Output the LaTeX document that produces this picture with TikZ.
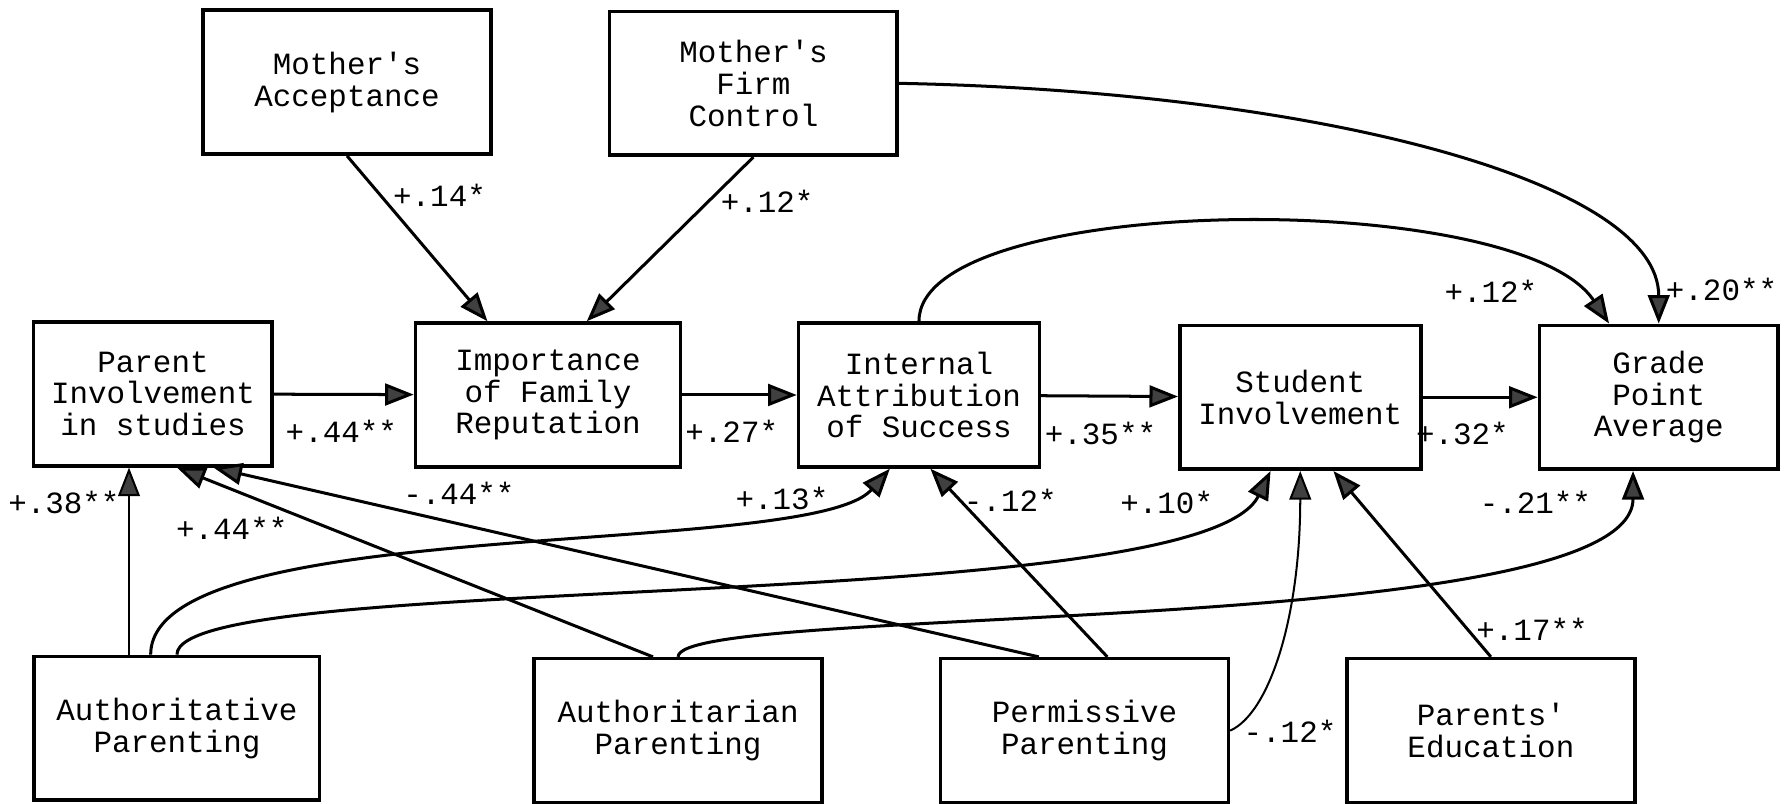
\documentclass[tikz,border=0pt]{standalone}
\usepackage{fontspec}
\setmonofont{Liberation Mono}
\usepackage{tikz}
\usetikzlibrary{arrows.meta,calc}
\tikzset{box/.style={draw,line width=0.9pt,align=center,inner sep=0pt,minimum width=25.2mm,minimum height=12.6mm,font=\ttfamily\fontsize{7.7}{7.9}\selectfont}}
\tikzset{coef/.style={font=\ttfamily\fontsize{7.7}{7.9}\selectfont,inner sep=1pt}}
\tikzset{effect/.style={line width=0.75pt,-{Triangle[length=2.5mm,width=1.9mm,fill=black!75]}}}
\tikzset{thineffect/.style={effect,line width=0.5pt}}

\begin{document}
\begin{tikzpicture}[x=0.1mm,y=-0.1mm]
  \useasboundingbox (0,0) rectangle (1568,704);
  % top row
  \node[box] (macc) at (304,72) {Mother's\\Acceptance};
  \node[box] (mfc) at (660,73) {Mother's\\Firm\\Control};
  % middle row
  \node[box,minimum width=20.9mm] (pinv) at (134,345) {Parent\\Involvement\\in studies};
  \node[box,minimum width=23.2mm] (ifr) at (480,346) {Importance\\of Family\\Reputation};
  \node[box,minimum width=21.1mm] (ias) at (805,346) {Internal\\Attribution\\of Success};
  \node[box,minimum width=21.1mm] (sinv) at (1139,348) {Student\\Involvement};
  \node[box,minimum width=20.9mm] (gpa) at (1453,348) {Grade\\Point\\Average};
  % bottom row
  \node[box,minimum width=25mm] (aut) at (155,638) {Authoritative\\Parenting};
  \node[box] (autn) at (594,640) {Authoritarian\\Parenting};
  \node[box] (perm) at (950,640) {Permissive\\Parenting};
  \node[box] (pedu) at (1306,640) {Parents'\\Education};

  \draw[effect] (pinv) -- (ifr);
  \draw[effect] (ifr) -- (ias);
  \draw[effect] (ias) -- (sinv);
  \draw[effect] (sinv) -- (gpa);
  \draw[effect] (macc.south) -- ([xshift=-5.3mm]ifr.north);
  \draw[effect] (mfc.south) -- ([xshift=3.4mm]ifr.north);
  \draw[effect] (mfc.east) .. controls +(364,7) and +(0,-125) .. (gpa.north);
  \draw[effect] (ias.north) .. controls +(0,-113) and +(-80,-120) .. ([xshift=-4.35mm]gpa.north);

  \draw[thineffect] ([xshift=-4.2mm]aut.north) -- ([xshift=-4.2mm]aut.north |- pinv.south);
  \draw[effect] ([xshift=-2.2mm]autn.north) -- ([xshift=2.1mm]pinv.south);
  \draw[effect] ([xshift=-4mm]perm.north) -- ([xshift=5.3mm]pinv.south);
  \draw[effect] ([xshift=2mm]perm.north) -- ([xshift=1mm]ias.south);
  \draw[effect] (pedu.north) -- ([xshift=2.9mm]sinv.south);
  \draw[thineffect] (perm.east) .. controls +(34,-15) and +(0,129) .. (sinv.south);
  \draw[effect] ([xshift=-2.3mm]aut.north) .. controls +(0,-125) and +(-70,80) .. ([xshift=-2.55mm]ias.south);
  \draw[effect] (aut.north) .. controls +(0,-75) and +(-63,129) .. ([xshift=-2.6mm]sinv.south);
  \draw[effect] (autn.north) .. controls +(0,-47) and +(0,148) .. ([xshift=-2.25mm]gpa.south);

  \foreach \n/\x/\y/\t in {ma/385/171/+.14*, mf/672/176/+.12*, ig/1306/255/+.12*,
      mg/1508/254/+.20**, pi/299/378/+.44**, ii/641/378/+.27*, is/964/380/+.35**,
      sg/1281/380/+.32*, ap/56/440/+.38**, tp/203/463/+.44**, rp/402/432/-.44**,
      ai/685/437/+.13*, ri/885/438/-.12*, as/1022/440/+.10*, tg/1345/440/-.21**,
      es/1342/551/+.17**, rs/1130/641/-.12*}
    \node[coef] (\n) at (\x,\y) {\t};
\end{tikzpicture}
\end{document}
